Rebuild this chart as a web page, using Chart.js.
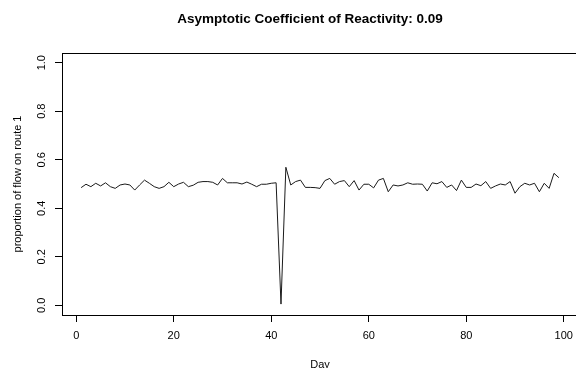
<!DOCTYPE html>
<html>
<head>
<meta charset="utf-8">
<script src="https://cdn.jsdelivr.net/npm/chart.js@4.4.1/dist/chart.umd.min.js"></script>
<style>
html, body { margin: 0; padding: 0; background: #fff; overflow: hidden; }
#wrap { width: 576px; height: 368px; overflow: hidden; }
</style>
</head>
<body>
<div id="wrap"><canvas id="reactChart" width="590" height="368"></canvas></div>
<script>
// day index and share of traffic taking route 1 on that day
const days = [1, 2, 3, 4, 5, 6, 7, 8, 9, 10, 11, 12, 13, 14, 15, 16, 17, 18, 19, 20,
    21, 22, 23, 24, 25, 26, 27, 28, 29, 30, 31, 32, 33, 34, 35, 36, 37, 38, 39, 40,
    41, 42, 43, 44, 45, 46, 47, 48, 49, 50, 51, 52, 53, 54, 55, 56, 57, 58, 59, 60,
    61, 62, 63, 64, 65, 66, 67, 68, 69, 70, 71, 72, 73, 74, 75, 76, 77, 78, 79, 80,
    81, 82, 83, 84, 85, 86, 87, 88, 89, 90, 91, 92, 93, 94, 95, 96, 97, 98, 99];
const route1Share = [0.485, 0.499, 0.489, 0.503, 0.492, 0.505, 0.489, 0.482, 0.496, 0.500,
    0.496, 0.475, 0.496, 0.516, 0.503, 0.489, 0.482, 0.489, 0.507, 0.489,
    0.500, 0.507, 0.489, 0.495, 0.507, 0.510, 0.510, 0.507, 0.496, 0.523,
    0.505, 0.505, 0.505, 0.500, 0.508, 0.499, 0.489, 0.499, 0.499, 0.503,
    0.505, 0.005, 0.569, 0.496, 0.510, 0.516, 0.486, 0.486, 0.485, 0.482,
    0.514, 0.523, 0.499, 0.510, 0.514, 0.489, 0.514, 0.475, 0.499, 0.499,
    0.484, 0.516, 0.523, 0.468, 0.496, 0.492, 0.496, 0.505, 0.499, 0.500,
    0.499, 0.471, 0.505, 0.501, 0.510, 0.486, 0.496, 0.473, 0.516, 0.486,
    0.486, 0.500, 0.493, 0.510, 0.482, 0.492, 0.500, 0.496, 0.510, 0.462,
    0.489, 0.503, 0.496, 0.503, 0.468, 0.503, 0.482, 0.544, 0.526];
const dayTicks = [0, 20, 40, 60, 80, 100];
const shareTicks = [0.0, 0.2, 0.4, 0.6, 0.8, 1.0];
const chartTitle = 'Asymptotic Coefficient of Reactivity: 0.09';

const FONT = '"Liberation Sans", Arial, sans-serif';

// R-style main title, placed above the plot box
const mainTitle = {
    id: 'mainTitle',
    afterDraw(chart) {
        const ctx = chart.ctx;
        ctx.save();
        ctx.font = 'bold 13.5px ' + FONT;
        ctx.fillStyle = '#000';
        ctx.textAlign = 'center';
        ctx.textBaseline = 'middle';
        ctx.fillText(chartTitle, 310, 19);
        ctx.restore();
    }
};

// full frame round the plotting region
const plotBox = {
    id: 'plotBox',
    afterDatasetsDraw(chart) {
        const a = chart.chartArea;
        const ctx = chart.ctx;
        ctx.save();
        ctx.strokeStyle = '#000';
        ctx.lineWidth = 1;
        ctx.strokeRect(Math.round(a.left) + 0.5, Math.round(a.top) + 0.5,
            Math.round(a.right - a.left), Math.round(a.bottom - a.top));
        ctx.restore();
    }
};

document.addEventListener('DOMContentLoaded', function () {
    const points = days.map((d, i) => ({ x: d, y: route1Share[i] }));

    new Chart(document.getElementById('reactChart').getContext('2d'), {
        type: 'line',
        data: {
            datasets: [{
                data: points,
                borderColor: '#1a1a1a',
                borderWidth: 1,
                pointRadius: 0,
                tension: 0,
                fill: false
            }]
        },
        options: {
            responsive: false,
            animation: false,
            events: [],
            layout: { padding: { top: 53, right: 12, left: 0, bottom: 0 } },
            plugins: {
                legend: { display: false },
                tooltip: { enabled: false }
            },
            scales: {
                x: {
                    type: 'linear',
                    min: -2.92,
                    max: 102.92,
                    afterBuildTicks: s => { s.ticks = dayTicks.map(v => ({ value: v })); },
                    afterFit: s => { s.height = 53; },
                    grid: { drawOnChartArea: false, drawTicks: true, tickLength: 7, color: '#000' },
                    border: { display: false },
                    ticks: {
                        color: '#000',
                        padding: 7,
                        maxRotation: 0,
                        font: { family: FONT, size: 11 },
                        callback: v => String(v)
                    },
                    title: {
                        display: true,
                        text: 'Day',
                        color: '#000',
                        padding: { top: 0, bottom: -4 },
                        font: { family: FONT, size: 11 }
                    }
                },
                y: {
                    type: 'linear',
                    min: -0.04,
                    max: 1.04,
                    afterBuildTicks: s => { s.ticks = shareTicks.map(v => ({ value: v })); },
                    afterFit: s => { s.width = 62; },
                    grid: { drawOnChartArea: false, drawTicks: true, tickLength: 7, color: '#000' },
                    border: { display: false },
                    ticks: {
                        color: '#000',
                        padding: 5,
                        minRotation: 90,
                        maxRotation: 90,
                        crossAlign: 'center',
                        font: { family: FONT, size: 11 },
                        callback: v => v.toFixed(1)
                    },
                    title: {
                        display: true,
                        text: 'proportion of flow on route 1',
                        color: '#000',
                        padding: { top: 11, bottom: 0 },
                        font: { family: FONT, size: 11 }
                    }
                }
            }
        },
        plugins: [mainTitle, plotBox]
    });
});
</script>
</body>
</html>
